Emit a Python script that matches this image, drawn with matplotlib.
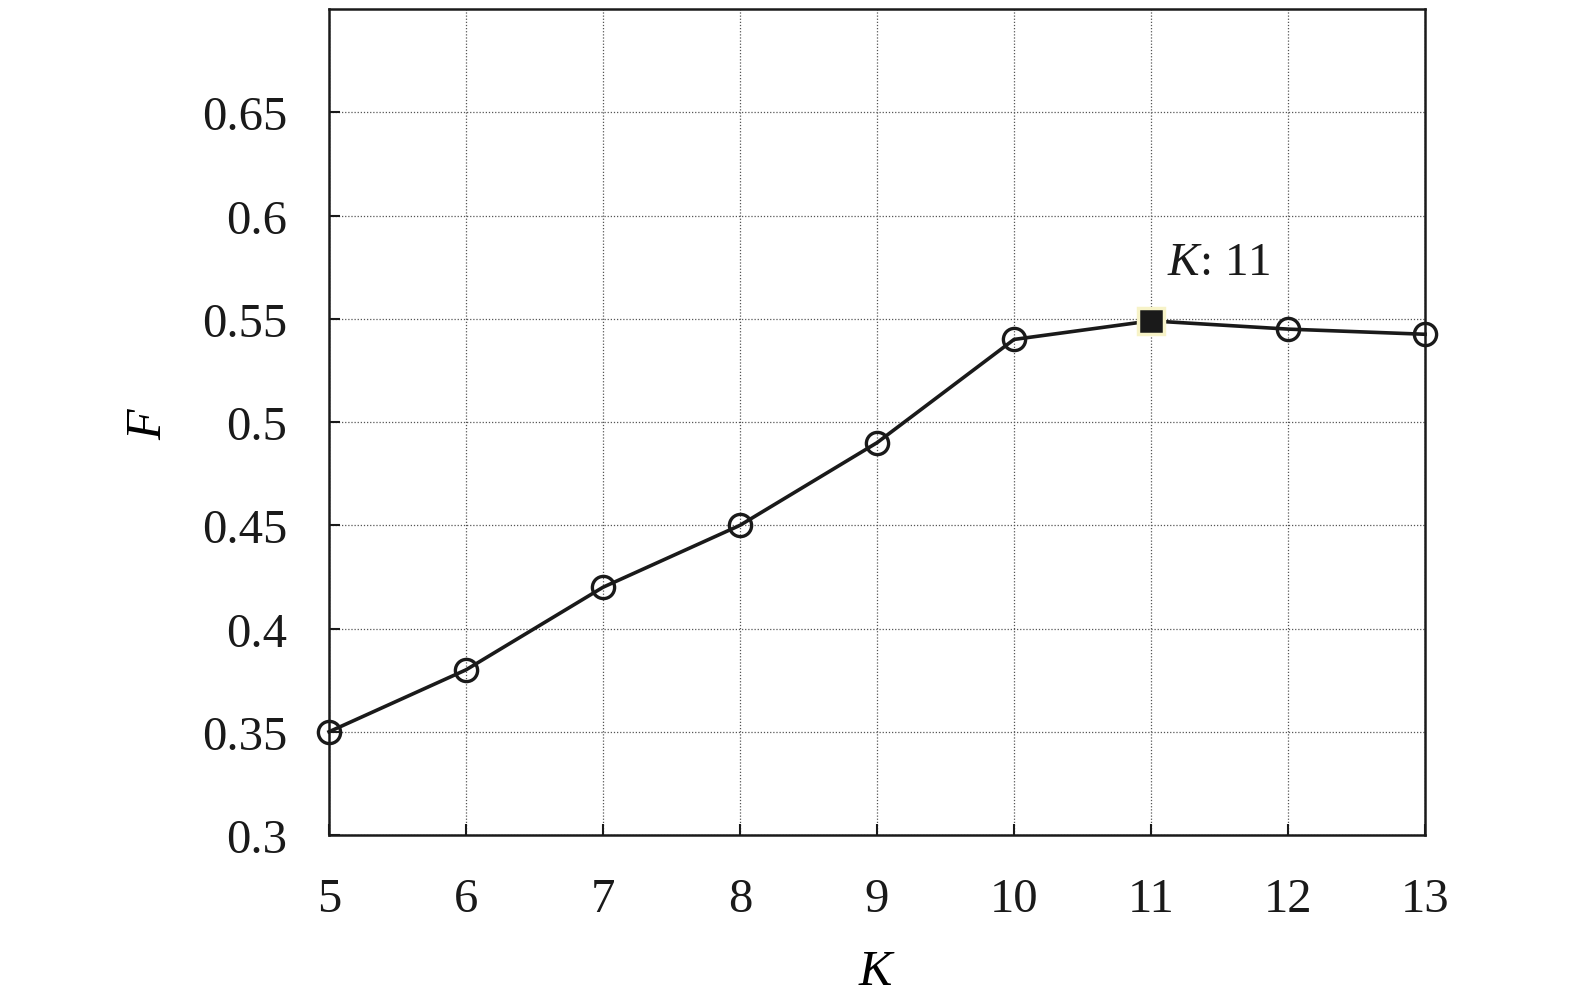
import matplotlib
matplotlib.use("Agg")
import matplotlib.pyplot as plt

plt.rcParams['font.family'] = ['Liberation Serif', 'DejaVu Serif']
plt.rcParams['mathtext.fontset'] = 'custom'
plt.rcParams['mathtext.rm'] = 'Liberation Serif'
plt.rcParams['mathtext.it'] = 'Liberation Serif:italic'

K = [5, 6, 7, 8, 9, 10, 11, 12, 13]
F = [0.35, 0.38, 0.42, 0.45, 0.49, 0.54, 0.549, 0.545, 0.5425]
best_idx = 6
yticks = [0.3, 0.35, 0.4, 0.45, 0.5, 0.55, 0.6, 0.65]
ytick_labels = ['0.3', '0.35', '0.4', '0.45', '0.5', '0.55', '0.6', '0.65']

fig = plt.figure(figsize=(15.75, 10.04), dpi=100)
ax = fig.add_axes([0.2089, 0.1673, 0.6959, 0.8227])

ax.plot(K, F, color='#1a1a1a', lw=2.6, marker='o', ms=16, mfc='none',
        mec='#1a1a1a', mew=2.4, zorder=3, clip_on=False)
ax.plot([K[best_idx]], [F[best_idx]], marker='s', ms=19, color='#1a1a1a',
        mec='#f7f3c8', mew=2.5, ls='none', zorder=4, clip_on=False)
ax.text(K[best_idx] + 0.12, 0.577, '$K$: 11', fontsize=34, va='center', ha='left',
        color='#1a1a1a')

ax.set_xlim(5, 13)
ax.set_ylim(0.3, 0.7)
ax.set_xticks(K)
ax.set_xticklabels([str(k) for k in K])
ax.set_yticks(yticks)
ax.set_yticklabels(ytick_labels)
ax.tick_params(direction='in', length=8, width=1.5, labelsize=35, pad=30,
               colors='#1a1a1a')
ax.grid(True, color='#555555', ls=(0, (1, 1.5)), lw=0.9)
for s in ax.spines.values():
    s.set_linewidth(1.8)
    s.set_color('#1a1a1a')

ax.set_xlabel('$K$', fontsize=36, labelpad=20)
ax.set_ylabel('$F$', fontsize=36, labelpad=22)

fig.savefig('out.png', dpi=100)
